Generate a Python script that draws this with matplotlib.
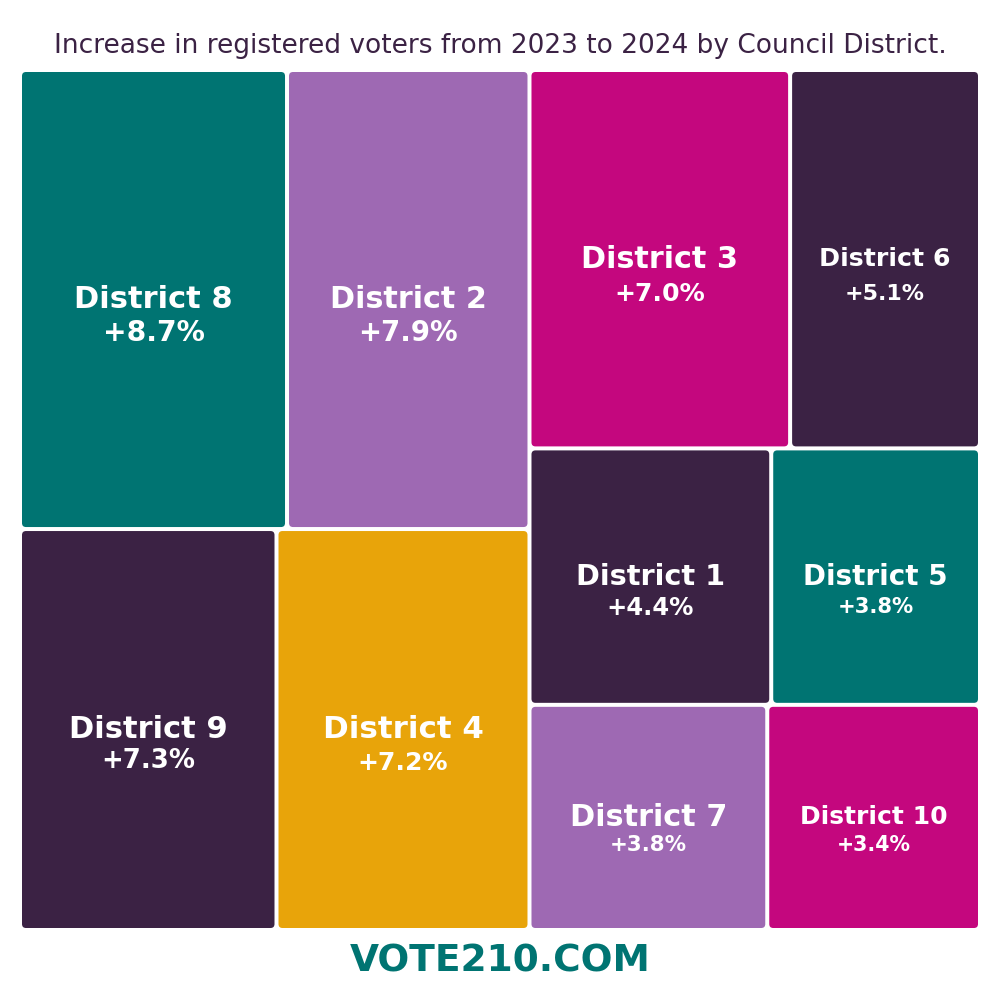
import matplotlib
matplotlib.use("Agg")
import matplotlib.pyplot as plt
from matplotlib.patches import FancyBboxPatch

# data
districts = ["District 8", "District 2", "District 9", "District 4",
             "District 3", "District 6", "District 1", "District 5",
             "District 7", "District 10"]
increase = [8.7, 7.9, 7.3, 7.2, 7.0, 5.1, 4.4, 3.8, 3.8, 3.4]

# treemap grouping: columns -> rows -> districts
layout_groups = [
    [["District 8", "District 2"], ["District 9", "District 4"]],
    [["District 3", "District 6"], ["District 1", "District 5"], ["District 7", "District 10"]],
]

title = "Increase in registered voters from 2023 to 2024 by Council District."
footer = "VOTE210.COM"

# styles
teal = "#007472"
lilac = "#9E69B3"
magenta = "#C4077E"
plum = "#3B2244"
gold = "#E8A40A"
cell_color = {"District 8": teal, "District 2": lilac, "District 9": plum,
              "District 4": gold, "District 3": magenta, "District 6": plum,
              "District 1": plum, "District 5": teal, "District 7": lilac,
              "District 10": magenta}
name_size = {"District 8": 22, "District 2": 21.8, "District 9": 22, "District 4": 22.2,
             "District 3": 21.8, "District 6": 18.2, "District 1": 20.7, "District 5": 20,
             "District 7": 21.9, "District 10": 18}
pct_size = {"District 8": 20.3, "District 2": 19.9, "District 9": 18.7, "District 4": 18.1,
            "District 3": 18.1, "District 6": 15.9, "District 1": 17.5, "District 5": 15.2,
            "District 7": 15.4, "District 10": 14.8}
pct_gap = {"District 8": 33, "District 2": 33, "District 9": 31, "District 4": 33,
           "District 3": 35, "District 6": 35, "District 1": 31, "District 5": 30,
           "District 7": 28, "District 10": 28}

val = dict(zip(districts, increase))

fig = plt.figure(figsize=(10, 10), dpi=100)
ax = fig.add_axes([0, 0, 1, 1])
ax.set_xlim(0, 1000)
ax.set_ylim(1000, 0)
ax.axis("off")

x0, y0, x1, y1 = 20, 70, 980, 930
gap = 2

total = sum(increase)
cx = x0
for col in layout_groups:
    col_sum = sum(val[d] for row in col for d in row)
    w = (x1 - x0) * col_sum / total
    cy = y0
    for row in col:
        row_sum = sum(val[d] for d in row)
        h = (y1 - y0) * row_sum / col_sum
        rx = cx
        for d in row:
            cw = w * val[d] / row_sum
            ax.add_patch(FancyBboxPatch((rx + gap, cy + gap), cw - 2 * gap, h - 2 * gap,
                                        boxstyle="round,pad=0,rounding_size=4",
                                        fc=cell_color[d], ec="none"))
            mx, my = rx + cw / 2, cy + h / 2
            ax.text(mx, my, d, ha="center", va="center", color="white",
                    fontsize=name_size[d], fontweight="bold", family="DejaVu Sans")
            ax.text(mx, my + pct_gap[d], f"+{val[d]:.1f}%", ha="center", va="center",
                    color="white", fontsize=pct_size[d], fontweight="bold",
                    family="DejaVu Sans")
            rx += cw
        cy += h
    cx += w

ax.text(500, 46, title, ha="center", va="center", color=plum, fontsize=19,
        family="DejaVu Sans")
ax.text(500, 962, footer, ha="center", va="center", color=teal, fontsize=27,
        fontweight="bold", family="DejaVu Sans")

fig.savefig("out.png", dpi=100, facecolor="white")
